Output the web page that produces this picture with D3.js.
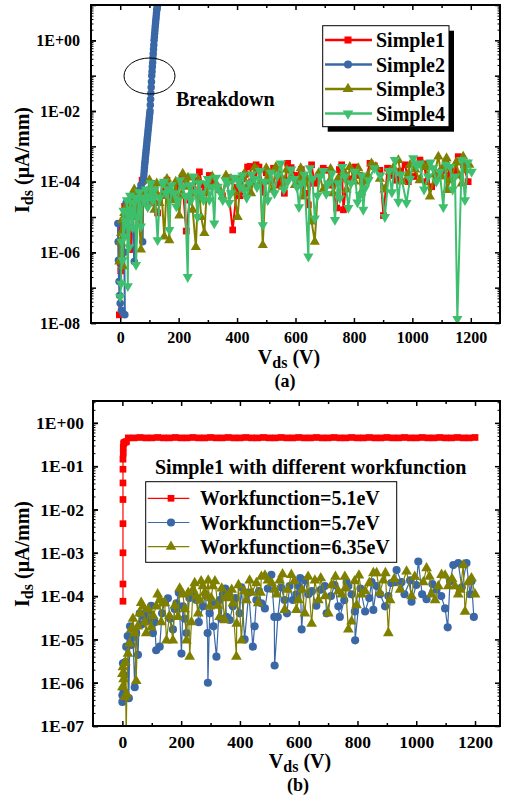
<!DOCTYPE html>
<html>
<head>
<meta charset="utf-8">
<script src="https://cdn.jsdelivr.net/npm/d3@7"></script>
<style>
body { margin: 0; background: #fff; }
svg { display: block; font-family: "Liberation Serif", "Times New Roman", serif; font-weight: bold; }
svg text { font-family: "Liberation Serif", "Times New Roman", serif; font-weight: bold; }
</style>
</head>
<body>
<script>
// ---------- data (V, I in uA/mm) ----------
const simple1Read = [[-3,1.7e-8],[2,3e-7],[5,2e-6],[10,8e-6],[18,3e-6],[25,1.5e-5],[37,1.2e-6],[45,2.5e-5],[68,3.0e-5],[85,5e-5],[100,5.8e-5],[115,2.5e-5],[128,1.3e-5],[150,7e-5],[175,4e-5],[200,8e-5],[226,4e-6],[250,6e-5],[271,1.9e-4],[290,5e-5],[320,9e-5],[350,4e-5],[385,4.3e-6],[400,7e-5],[420,1.2e-4],[436,2.6e-4],[450,1e-4],[465,3.0e-4],[490,5e-5],[510,1.2e-4],[540,8e-5],[562,4.7e-5],[573,3.3e-4],[600,1.5e-4],[632,4.7e-5],[644,2.2e-5],[655,3.0e-4],[680,1.5e-4],[712,2.1e-4],[741,1.8e-5],[758,3.0e-4],[764,1.6e-5],[790,1.2e-4],[820,1.5e-4],[855,3.3e-4],[889,2.1e-4],[901,1.1e-5],[930,1.5e-4],[960,2e-4],[986,1.0e-4],[1026,4.1e-4],[1049,1.0e-4],[1066,7.2e-5],[1100,2e-4],[1130,1.5e-4],[1157,5.1e-4],[1191,1.0e-4]];
const simple1More = [[0,5e-7],[7,5e-6],[15,2e-5],[30,1e-5],[55,4e-5],[75,1.1e-4],[92,3e-5],[108,9e-5],[140,4e-5],[160,1.1e-4],[188,5e-5],[212,1.2e-4],[238,3e-5],[262,1.1e-4],[280,8e-5],[305,1.5e-4],[335,6e-5],[365,1.3e-4],[410,4e-5],[428,1.6e-4],[445,2.7e-4],[458,1.5e-4],[475,2.6e-4],[500,1.8e-4],[525,2.4e-4],[552,1.2e-4],[585,2.5e-4],[615,8e-5],[620,2.2e-4],[665,9e-5],[695,2.4e-4],[725,8e-5],[750,2.2e-4],[775,1.2e-4],[805,2.6e-4],[838,1.1e-4],[870,2.8e-4],[915,2.4e-4],[945,1.1e-4],[975,3e-4],[1005,1.4e-4],[1040,3.2e-4],[1085,1.5e-4],[1115,3.4e-4],[1145,2e-4],[1175,3e-4]];

const simple2 = [[-8,6.6e-6],[-7,2.0e-6],[-6,6e-7],[-4,1.5e-7],[-2,6e-8],[0,3.6e-8],[4,2.3e-8],[10,1.9e-8],[16,1.7e-8],[14,1e-6],[12,5e-6],[16,1.5e-5],[20,2.5e-5],[30,2e-5],[40,3e-5],[48,5.5e-7],[55,2.5e-5],[62,4e-5],[66,5.8e-5],[71,8e-5],[77,2e-6],
  [79,1.0e-4],[80,1.26e-4],[81,1.58e-4],[82,2.0e-4],[83,2.51e-4],[84,3.16e-4],[85,3.8e-4],[86,4.68e-4],[87,5.62e-4],[88,6.76e-4],[89,8.3e-4],[90,1.0e-3],[91,1.2e-3],[92,1.48e-3],[93,1.78e-3],[94,2.14e-3],[95,2.63e-3],[96,3.16e-3],[97,3.8e-3],[98,4.68e-3],[99,5.62e-3],[100,6.76e-3],[101,8.3e-3],[102,1.0e-2],[103,1.48e-2],[104,2.14e-2],[105,3.16e-2],[106,4.68e-2],[107,6.76e-2],[108,0.1],[109,0.132],[110,0.178],[111,0.234],[112,0.316],[113,0.417],[114,0.562],[115,0.741],[116,1.0],[117,1.26],[118,1.58],[119,2.0],[120,2.51],[121,3.09],[122,3.8],[123,4.68],[124,5.75],[125,7.08],[126,7.94],[127,8.91],[128,10],[129,11.2]];

const simple3Read = [[-3,5.5e-7],[3,3.5e-6],[14,1.3e-5],[31,3.0e-5],[43,4.7e-5],[54,1.0e-5],[71,1.2e-6],[100,1.1e-4],[117,1.6e-5],[134,2.5e-5],[151,2.8e-6],[168,2.2e-6],[180,3.0e-5],[202,1.1e-5],[214,1.7e-4],[225,7.2e-5],[248,1.6e-5],[259,1.4e-6],[277,1.0e-5],[288,3.5e-6],[305,7.2e-5],[328,8.9e-5],[351,3.8e-5],[379,1.2e-4],[402,1.0e-5],[425,1.7e-4],[448,4.7e-5],[471,2.1e-4],[488,1.6e-6],[510,1.0e-4],[533,2.6e-4],[556,7.2e-5],[585,1.4e-4],[610,1.1e-4],[627,3.8e-5],[655,7.4e-6],[666,2.0e-6],[712,8.9e-5],[729,4.7e-5],[786,2.6e-4],[803,1.0e-4],[838,1.0e-4],[860,3.3e-4],[889,1.2e-4],[923,1.9e-4],[952,4.1e-4],[986,1.7e-4],[992,3.0e-4],[1037,3.0e-4],[1060,3.8e-5],[1089,5.1e-4],[1100,1.4e-4],[1117,4.6e-4],[1118,5.8e-5],[1169,8.9e-5],[1174,5.1e-4],[1180,2.1e-4]];
const simple3More = [[0,2e-6],[6,8e-6],[10,4e-7],[20,2e-5],[25,6e-6],[37,2.2e-5],[48,6e-5],[60,3e-5],[80,5e-5],[90,2.5e-5],[108,6e-5],[125,9e-5],[142,4e-5],[160,1.2e-4],[172,5e-5],[190,1e-4],[208,4e-5],[232,1.3e-4],[240,4.5e-5],[268,1.1e-4],[296,5e-5],[315,1.4e-4],[340,6e-5],[362,1.5e-4],[390,5e-5],[412,1.3e-4],[437,8e-5],[460,2.5e-4],[480,1e-4],[500,2.4e-4],[522,6e-5],[545,1.6e-4],[570,2.2e-4],[598,8e-5],[618,2.4e-4],[640,1.2e-4],[680,1.8e-4],[695,6e-5],[720,2.3e-4],[745,1.2e-4],[765,2e-4],[775,6e-5],[815,2.4e-4],[825,5e-5],[848,1.5e-4],[875,2.6e-4],[905,6e-5],[935,2.5e-4],[965,1e-4],[1010,2.2e-4],[1025,1.1e-4],[1048,2.6e-4],[1075,1.6e-4],[1108,2.8e-4],[1130,1.1e-4],[1150,3.5e-4],[1160,1.5e-4],[1195,3e-4]];

const simple4Read = [[0,5.5e-8],[3,1.3e-7],[8,6.0e-7],[14,2.8e-6],[20,6.6e-6],[26,1.1e-7],[31,1.4e-6],[37,1.6e-5],[48,2.5e-5],[54,4.4e-7],[60,1.0e-5],[71,5.4e-6],[83,3.0e-5],[94,1.9e-5],[111,3.0e-5],[128,2.2e-6],[145,8.9e-5],[157,4.7e-5],[168,4.3e-6],[185,4.7e-5],[197,3.0e-5],[214,7.2e-5],[231,2.0e-7],[242,3.0e-5],[265,1.0e-5],[277,4.7e-5],[294,8.9e-5],[305,3.0e-5],[322,6.6e-6],[334,7.2e-5],[351,3.0e-5],[368,8.9e-5],[379,4.7e-5],[402,1.1e-4],[425,5.8e-5],[442,8.9e-5],[459,1.2e-4],[488,5.9e-6],[505,3.0e-5],[528,4.7e-5],[550,3.3e-4],[573,1.0e-4],[596,1.2e-4],[612,1.9e-5],[621,8.9e-5],[644,7.6e-7],[649,2.4e-4],[666,9.1e-6],[684,1.4e-4],[712,8.9e-5],[735,8.3e-6],[752,3.4e-5],[769,1.4e-4],[781,1.8e-5],[803,1.9e-4],[821,4.2e-5],[832,1.6e-5],[838,6.5e-5],[906,1.0e-5],[940,4.1e-4],[952,2.7e-5],[980,2.5e-5],[1003,4.6e-4],[1026,3.3e-4],[1054,1.4e-4],[1071,2.4e-4],[1094,1.9e-4],[1106,1.9e-5],[1129,2.6e-4],[1146,1.4e-4],[1154,1.3e-8],[1169,4.1e-4],[1180,3.0e-5],[1203,1.9e-4]];
const simple4More = [[5,2e-6],[11,1.5e-5],[17,8e-6],[23,3e-5],[28,1.2e-5],[34,4e-5],[42,5e-6],[52,3.5e-5],[65,5e-5],[77,3.5e-5],[88,6e-5],[100,4e-5],[105,9e-5],[118,6e-5],[135,3.5e-5],[150,1e-4],[163,6e-5],[175,8e-5],[192,2e-5],[205,1.1e-4],[222,4e-5],[236,8e-5],[250,1.4e-4],[258,5e-5],[270,9e-5],[285,3e-5],[300,1.2e-4],[315,7e-5],[328,1.3e-4],[342,5e-5],[360,1.1e-4],[373,2.5e-5],[390,1.3e-4],[410,7e-5],[418,1.5e-4],[433,3.5e-5],[450,1.6e-4],[468,7e-5],[478,2e-4],[495,1e-4],[515,1.8e-4],[538,1.5e-4],[560,6e-5],[585,2.2e-4],[605,7e-5],[630,1.6e-4],[658,1.2e-4],[675,4e-5],[695,2e-4],[705,4.5e-5],[725,1.7e-4],[745,9e-5],[760,2.6e-4],[790,9e-5],[812,2.6e-5],[827,1.5e-4],[850,1.1e-4],[870,2.4e-4],[890,1.5e-4],[920,2e-4],[930,5e-5],[960,1.6e-4],[992,1.2e-4],[1015,2.8e-4],[1040,6e-5],[1062,3.5e-4],[1082,1e-4],[1115,3e-4],[1138,6e-5],[1190,3.5e-4]];

const wf51 = [[2,7.6e-5],[2,1.9e-4],[2,1.0e-3],[2,4.7e-3],[2,1.7e-2],[2,4.1e-2],[2,8.5e-2],[2,0.145],[3,0.2],[3,0.27],[4,0.33],[6,0.35],[10,0.36],[14,0.37],[20,0.45],[40,0.45],[60,0.46],[80,0.45],[100,0.45],[120,0.46],[140,0.45],[160,0.45],[180,0.46],[200,0.45],[220,0.45],[240,0.46],[260,0.45],[280,0.45],[300,0.46],[320,0.45],[340,0.45],[360,0.46],[380,0.45],[400,0.45],[420,0.46],[440,0.45],[460,0.45],[480,0.46],[500,0.45],[520,0.45],[540,0.46],[560,0.45],[580,0.45],[600,0.46],[620,0.45],[640,0.45],[660,0.46],[680,0.45],[700,0.45],[720,0.46],[740,0.45],[760,0.45],[780,0.46],[800,0.45],[820,0.45],[840,0.46],[860,0.45],[880,0.45],[900,0.46],[920,0.45],[940,0.45],[960,0.46],[980,0.45],[1000,0.45],[1020,0.46],[1040,0.45],[1060,0.45],[1080,0.46],[1100,0.45],[1120,0.45],[1140,0.46],[1160,0.45],[1180,0.45],[1200,0.46]];

const wf57Read = [[0,3.6e-7],[0,5.1e-7],[2,2.8e-6],[4,6.6e-7],[13,6.8e-6],[22,4.4e-7],[30,7.4e-6],[42,7.9e-7],[47,1.4e-5],[53,4.4e-6],[59,4.0e-5],[76,3.3e-5],[93,2.8e-5],[104,1.4e-5],[115,5.6e-6],[127,6.8e-6],[144,7.4e-5],[155,8.9e-5],[172,1.7e-5],[184,6.8e-5],[201,4.7e-6],[206,5.8e-5],[218,1.4e-5],[240,1.1e-4],[252,8.1e-5],[274,5.8e-5],[290,1.4e-5],[291,1.0e-6],[297,4.0e-5],[320,4.0e-6],[331,8.1e-5],[342,1.1e-4],[354,3.3e-5],[365,2.8e-5],[376,5.8e-5],[399,4.0e-5],[416,1.0e-5],[444,6.8e-6],[456,8.1e-5],[473,6.8e-5],[485,5.2e-5],[507,3.1e-4],[517,3.3e-5],[518,2.5e-6],[529,3.3e-5],[552,8.1e-5],[569,1.7e-4],[580,8.1e-5],[592,1.1e-4],[599,1.7e-4],[610,1.7e-5],[621,2.3e-4],[633,1.1e-4],[689,1.7e-4],[695,4.0e-5],[735,5.8e-5],[740,3.3e-5],[763,2.1e-4],[769,1.7e-4],[791,4.4e-5],[792,9.5e-6],[826,4.4e-5],[848,2.1e-4],[854,4.8e-5],[877,1.1e-4],[894,5.8e-5],[928,2.1e-4],[933,4.0e-4],[950,2.1e-4],[979,2.3e-4],[984,7.4e-5],[1007,6.3e-4],[1035,8.5e-5],[1069,1.4e-4],[1098,5.2e-5],[1107,1.9e-5],[1126,5.2e-4],[1143,5.8e-4],[1171,5.8e-4],[1183,1.1e-4],[1196,3.3e-5]];
const wf57More = [[6,1.5e-6],[10,3e-6],[18,1.2e-5],[26,2e-5],[36,1.1e-5],[65,2.2e-5],[85,4.5e-5],[98,6e-5],[110,2.5e-5],[135,4e-5],[162,3e-5],[178,5e-5],[192,1.2e-4],[212,3e-5],[228,9e-5],[260,2.5e-5],[283,1.1e-4],[305,7e-5],[310,2e-5],[336,3e-5],[350,1.5e-4],[385,9e-5],[405,1.6e-4],[430,1.2e-4],[450,2e-5],[465,1.3e-4],[495,1.5e-4],[540,1.6e-4],[560,4e-5],[605,2.6e-4],[645,1.3e-4],[660,6e-5],[675,1.4e-4],[710,1e-4],[722,1.8e-4],[755,8e-5],[780,1.1e-4],[810,1.5e-4],[840,9e-5],[865,1.7e-4],[905,1e-4],[915,2e-4],[960,1.1e-4],[1000,1.8e-4],[1020,1.1e-4],[1055,1.9e-4],[1085,1e-4],[1115,2.2e-4],[1155,1.6e-4],[1188,2.2e-4]];

const wf635Read = [[0,1.6e-6],[0,7.9e-7],[2,2.3e-6],[8,4.7e-7],[13,5e-8],[15,5.4e-7],[19,4.7e-6],[30,1.7e-5],[42,1.4e-5],[47,1.1e-6],[59,4.0e-5],[70,5.8e-5],[81,1.4e-5],[98,1.9e-5],[115,5.8e-5],[127,8.1e-5],[138,6.8e-5],[150,9.5e-6],[172,9.5e-6],[189,3.3e-5],[206,1.1e-4],[218,9.5e-6],[229,4.0e-6],[240,1.4e-4],[252,9.8e-5],[263,8.1e-5],[274,1.7e-4],[286,9.8e-5],[297,5.8e-5],[308,1.7e-4],[331,3.3e-5],[348,2.8e-5],[354,9.8e-5],[365,1.1e-4],[376,6.8e-5],[388,4.0e-6],[389,2.3e-5],[405,9.5e-6],[422,8.1e-5],[433,2.3e-4],[456,2.0e-4],[462,6.9e-5],[473,2.8e-4],[495,2.3e-4],[518,1.4e-4],[535,2.3e-4],[552,4.8e-5],[575,3.1e-4],[592,4.8e-5],[599,8.1e-5],[621,4.0e-5],[644,2.3e-5],[655,2.3e-4],[667,8.1e-5],[701,4.0e-5],[712,1.8e-4],[735,1.3e-4],[746,1.1e-4],[757,2.8e-4],[769,1.7e-5],[780,2.6e-5],[797,6.2e-5],[814,1.1e-4],[826,1.3e-4],[854,3.4e-4],[865,3.4e-4],[888,2.3e-4],[905,1.4e-5],[911,8.1e-5],[967,3.7e-4],[984,1.0e-4],[1024,2.1e-4],[1035,4.4e-4],[1052,1.1e-4],[1064,8.1e-5],[1086,3.1e-4],[1109,1.7e-4],[1132,1.7e-4],[1143,1.1e-4],[1160,5.2e-4],[1166,4.4e-5],[1177,2.1e-4],[1200,1.1e-4]];
const wf635More = [[4,1.2e-6],[10,3e-6],[24,8e-6],[36,3e-5],[52,2e-5],[64,7e-5],[76,2.5e-5],[88,5e-5],[105,3.5e-5],[120,1.1e-4],[132,2.5e-5],[144,7e-5],[160,3.5e-5],[178,6e-5],[195,1.5e-4],[212,5e-5],[224,1.2e-4],[235,2.5e-5],[246,2e-4],[258,4e-5],[268,2.2e-4],[280,1.2e-4],[292,2.3e-4],[302,9e-5],[315,2.2e-4],[325,6e-5],[338,1.5e-4],[360,9e-5],[372,1.4e-4],[395,1.8e-4],[415,1.3e-4],[440,1.2e-4],[470,1.2e-4],[485,3e-4],[508,2e-4],[525,1.1e-4],[545,3.2e-4],[562,1.4e-4],[585,2.2e-4],[612,1.4e-4],[632,2.8e-4],[675,2.6e-4],[690,1e-4],[725,2.8e-4],[760,1.5e-4],[790,2.2e-4],[805,3e-4],[840,2e-4],[876,1.2e-4],[895,3.4e-4],[925,2.5e-4],[945,1.4e-4],[995,2.8e-4],[1045,2.8e-4],[1075,1.7e-4],[1098,3e-4],[1122,2.5e-4],[1150,1.4e-4],[1188,2.6e-4]];

// tick lists
const xMajorTicks = [0, 200, 400, 600, 800, 1000, 1200];
const xMinorTicks = [100, 300, 500, 700, 900, 1100];
const yLabelsA = [1e-8, 1e-6, 1e-4, 1e-2, 1];
const yLabelsB = [1e-7, 1e-6, 1e-5, 1e-4, 1e-3, 1e-2, 1e-1, 1];

const namesA = ['Simple1', 'Simple2', 'Simple3', 'Simple4'];
const namesB = ['Workfunction=5.1eV', 'Workfunction=5.7eV', 'Workfunction=6.35eV'];

const RED = '#ff0000', BLUE = '#3a68a6', OLIVE = '#808000', GREEN = '#3dbf6e';
const FONT = '"Liberation Serif", "Times New Roman", serif';

// merge the two readings of a series, in order of voltage
const byV = (a, b) => d3.sort(a.concat(b), d => d[0]);
const simple1 = byV(simple1Read, simple1More);
const simple3 = byV(simple3Read, simple3More);
const simple4 = byV(simple4Read, simple4More);
const wf57 = byV(wf57Read, wf57More);
const wf635 = byV(wf635Read, wf635More);

const svg = d3.select('body').append('svg')
    .attr('width', 506)
    .attr('height', 798);

function sci(d) {
    const e = Math.round(Math.log10(d));
    return '1E' + (e < 0 ? '-' : '+') + String(Math.abs(e)).padStart(2, '0');
}

function isDecade(d) {
    const l = Math.log10(d);
    return Math.abs(l - Math.round(l)) < 1e-6;
}

function markerPath(shape, size) {
    const t = shape === 'square' ? d3.symbolSquare : shape === 'circle' ? d3.symbolCircle : d3.symbolTriangle;
    return d3.symbol().type(t).size(size)();
}

function styleAxis(sel, fs) {
    sel.attr('font-family', null).attr('font-size', null);
    sel.select('.domain').remove();
    sel.selectAll('.tick line').attr('stroke', '#000').attr('stroke-width', 1.5);
    sel.selectAll('.tick text')
        .attr('fill', '#000')
        .style('font-size', fs + 'px')
        .style('font-family', FONT)
        .style('font-weight', 'bold');
}

function drawAxes(g, x, y, o) {
    const [x0, x1] = x.range();
    const [y0, y1] = y.range();
    const decades = y.ticks().filter(isDecade);
    const minors = y.ticks().filter(d => !isDecade(d));

    g.append('g').attr('transform', `translate(0,${y0})`)
        .call(d3.axisBottom(x).tickValues(xMajorTicks).tickSize(-5).tickPadding(o.xPad).tickFormat(d3.format('d')))
        .call(s => styleAxis(s, o.fs));
    g.append('g').attr('transform', `translate(0,${y0})`)
        .call(d3.axisBottom(x).tickValues(xMinorTicks).tickSize(-3).tickFormat(''))
        .call(s => styleAxis(s, o.fs));
    g.append('g').attr('transform', `translate(0,${y1})`)
        .call(d3.axisTop(x).tickValues(xMajorTicks).tickSize(-5).tickFormat(''))
        .call(s => styleAxis(s, o.fs));
    g.append('g').attr('transform', `translate(0,${y1})`)
        .call(d3.axisTop(x).tickValues(xMinorTicks).tickSize(-3).tickFormat(''))
        .call(s => styleAxis(s, o.fs));

    g.append('g').attr('transform', `translate(${x0},0)`)
        .call(d3.axisLeft(y).tickValues(o.yLabels).tickSize(-5).tickPadding(o.yPad).tickFormat(sci))
        .call(s => styleAxis(s, o.fs));
    g.append('g').attr('transform', `translate(${x0},0)`)
        .call(d3.axisLeft(y).tickValues(decades).tickSize(-5).tickFormat(''))
        .call(s => styleAxis(s, o.fs));
    g.append('g').attr('transform', `translate(${x0},0)`)
        .call(d3.axisLeft(y).tickValues(minors).tickSize(-2.5).tickFormat(''))
        .call(s => styleAxis(s, o.fs))
        .selectAll('.tick line').attr('stroke-width', 1);

    g.append('g').attr('transform', `translate(${x1},0)`)
        .call(d3.axisRight(y).tickValues(decades).tickSize(-5).tickFormat(''))
        .call(s => styleAxis(s, o.fs));
    g.append('g').attr('transform', `translate(${x1},0)`)
        .call(d3.axisRight(y).tickValues(minors).tickSize(-2.5).tickFormat(''))
        .call(s => styleAxis(s, o.fs))
        .selectAll('.tick line').attr('stroke-width', 1);

    g.append('rect')
        .attr('x', x0).attr('y', y1)
        .attr('width', x1 - x0).attr('height', y0 - y1)
        .attr('fill', 'none').attr('stroke', '#000').attr('stroke-width', 2);
}

function drawSeries(g, x, y, data, color, shape, size, lw, clip) {
    const s = g.append('g').attr('clip-path', `url(#${clip})`);
    const line = d3.line().x(d => x(d[0])).y(d => y(d[1]));
    s.append('path')
        .attr('d', line(data))
        .attr('fill', 'none')
        .attr('stroke', color)
        .attr('stroke-width', lw)
        .attr('stroke-linejoin', 'round');
    s.selectAll('path.m')
        .data(data)
        .enter().append('path')
        .attr('class', 'm')
        .attr('d', markerPath(shape, size))
        .attr('transform', d => `translate(${x(d[0])},${y(d[1])})` + (shape === 'down' ? ' rotate(180)' : ''))
        .attr('fill', color);
}

function axisTitle(g, x, y, main, sub, rest, rotate) {
    const t = g.append('text')
        .attr('transform', `translate(${x},${y})` + (rotate ? ' rotate(-90)' : ''))
        .attr('text-anchor', 'middle')
        .style('font-size', '20px')
        .attr('fill', '#000');
    t.append('tspan').text(main);
    t.append('tspan').style('font-size', '16px').attr('dy', 4).text(sub);
    t.append('tspan').attr('dy', -4).text(rest);
}

const defs = svg.append('defs');

// ---------- panel (a) ----------
const xA = d3.scaleLinear().domain([-100, 1300]).range([91, 500]);
const yA = d3.scaleLog().domain([1e-8, 10]).range([323, 5]);

defs.append('clipPath').attr('id', 'clipA').append('rect')
    .attr('x', 91).attr('y', 5).attr('width', 409).attr('height', 318);

const gA = svg.append('g');
drawSeries(gA, xA, yA, simple1, RED, 'square', 45, 2, 'clipA');
drawSeries(gA, xA, yA, simple2, BLUE, 'circle', 44, 2, 'clipA');
drawSeries(gA, xA, yA, simple3, OLIVE, 'triangle', 45, 2, 'clipA');
drawSeries(gA, xA, yA, simple4, GREEN, 'down', 45, 2, 'clipA');
drawAxes(gA, xA, yA, {xPad: 9, yPad: 11, fs: 16, yLabels: yLabelsA});

gA.append('ellipse')
    .attr('cx', 149.5).attr('cy', 76).attr('rx', 25.5).attr('ry', 18)
    .attr('fill', 'none').attr('stroke', '#000').attr('stroke-width', 1);
gA.append('text')
    .attr('x', 176).attr('y', 106)
    .style('font-size', '20px').attr('fill', '#000')
    .text('Breakdown');

// legend (a)
const legA = gA.append('g');
legA.append('rect').attr('x', 327.7).attr('y', 30.7).attr('width', 126.3).attr('height', 101).attr('fill', '#000');
legA.append('rect').attr('x', 322.7).attr('y', 25.7).attr('width', 126.3).attr('height', 101)
    .attr('fill', '#fff').attr('stroke', '#000').attr('stroke-width', 1);
const legAStyle = [[RED, 'square'], [BLUE, 'circle'], [OLIVE, 'triangle'], [GREEN, 'down']];
namesA.forEach((n, i) => {
    const cy = 40 + i * 24.5;
    legA.append('line').attr('x1', 325).attr('x2', 372).attr('y1', cy).attr('y2', cy)
        .attr('stroke', legAStyle[i][0]).attr('stroke-width', 2.5);
    legA.append('path').attr('d', markerPath(legAStyle[i][1], 50))
        .attr('transform', `translate(348,${cy})` + (legAStyle[i][1] === 'down' ? ' rotate(180)' : ''))
        .attr('fill', legAStyle[i][0]);
    legA.append('text').attr('x', 376).attr('y', cy + 7)
        .style('font-size', '20px').attr('fill', '#000').text(n);
});

axisTitle(gA, 29, 160, 'I', 'ds', ' (\u03bcA/mm)', true);
axisTitle(gA, 289, 364, 'V', 'ds', ' (V)', false);
gA.append('text').attr('x', 285).attr('y', 387).attr('text-anchor', 'middle')
    .style('font-size', '18px').attr('fill', '#000').text('(a)');

// ---------- panel (b) ----------
const xB = d3.scaleLinear().domain([-100, 1285]).range([93, 500]);
const yB = d3.scaleLog().domain([1e-7, 3.2]).range([726, 401]);

defs.append('clipPath').attr('id', 'clipB').append('rect')
    .attr('x', 93).attr('y', 401).attr('width', 407).attr('height', 325);

const gB = svg.append('g');
drawSeries(gB, xB, yB, wf51, RED, 'square', 45, 1.2, 'clipB');
drawSeries(gB, xB, yB, wf57, BLUE, 'circle', 52, 1.2, 'clipB');
drawSeries(gB, xB, yB, wf635, OLIVE, 'triangle', 50, 1.2, 'clipB');
drawAxes(gB, xB, yB, {xPad: 10, yPad: 9, fs: 17.5, yLabels: yLabelsB});

gB.append('text')
    .attr('x', 155).attr('y', 474)
    .style('font-size', '20px').attr('fill', '#000')
    .text('Simple1 with different workfunction');

const legB = gB.append('g');
legB.append('rect').attr('x', 145.7).attr('y', 481.7).attr('width', 251).attr('height', 80.6)
    .attr('fill', '#fff').attr('stroke', '#000').attr('stroke-width', 1);
const legBStyle = [[RED, 'square', 45], [BLUE, 'circle', 52], [OLIVE, 'triangle', 50]];
namesB.forEach((n, i) => {
    const cy = 498.3 + i * 24.2;
    legB.append('line').attr('x1', 147.7).attr('x2', 189.3).attr('y1', cy).attr('y2', cy)
        .attr('stroke', legBStyle[i][0]).attr('stroke-width', 1.2);
    legB.append('path').attr('d', markerPath(legBStyle[i][1], legBStyle[i][2]))
        .attr('transform', `translate(171,${cy})`)
        .attr('fill', legBStyle[i][0]);
    legB.append('text').attr('x', 200).attr('y', cy + 7)
        .style('font-size', '20px').attr('fill', '#000').text(n);
});

axisTitle(gB, 29, 554, 'I', 'ds', ' (\u03bcA/mm)', true);
axisTitle(gB, 300, 768, 'V', 'ds', ' (V)', false);
gB.append('text').attr('x', 298).attr('y', 791).attr('text-anchor', 'middle')
    .style('font-size', '18px').attr('fill', '#000').text('(b)');
</script>
</body>
</html>
